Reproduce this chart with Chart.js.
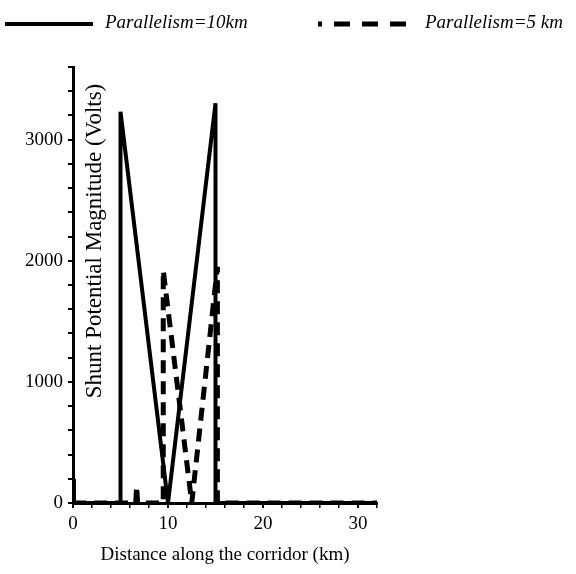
<!DOCTYPE html>
<html>
<head>
<meta charset="utf-8">
<title>Shunt potential along the corridor</title>
<script src="https://cdn.jsdelivr.net/npm/chart.js@4.4.1/dist/chart.umd.min.js"></script>
<style>
  html, body { margin: 0; padding: 0; background: #fff; }
  #wrap { position: relative; width: 576px; height: 574px; }
  #chart { position: absolute; left: 0; top: 0; }
  .leg-item { position: absolute; top: 0; height: 46px; }
  .leg-text {
    position: absolute; top: 11px; white-space: nowrap;
    font: italic 19px "Liberation Serif", "Times New Roman", serif; color: #000;
  }
</style>
</head>
<body>
<div id="wrap">
  <canvas id="chart" width="576" height="574"></canvas>
  <div id="legend"></div>
</div>
<script>
// Distances (km) and shunt potential (V)
const solidLabel = 'Parallelism=10km';
const solidX = [0, 0.1, 5, 5, 10, 15, 15, 32];
const solidY = [200, 0, 0, 3230, 0, 3300, 0, 0];

const dashedLabel = 'Parallelism=5 km';
const dashedX = [0, 6.6, 6.7, 6.8, 9.5, 9.5, 12.5, 15.2, 15.2, 32];
const dashedY = [0, 0, 140, 0, 0, 1920, 0, 1950, 0, 0];

const xTitle = 'Distance along the corridor (km)';
const yTitle = 'Shunt Potential Magnitude (Volts)';
const xMajor = [0, 10, 20, 30];
const yMajor = [0, 1000, 2000, 3000];

const serif = '"Liberation Serif", "Times New Roman", serif';

function toPoints(xs, ys) {
  return xs.map((x, i) => ({ x, y: ys[i] }));
}

// y title sits inside the plot, right of the axis
const yTitlePlugin = {
  id: 'yTitleInside',
  afterDraw(chart) {
    const ctx = chart.ctx;
    ctx.save();
    ctx.translate(95, 241);
    ctx.rotate(-Math.PI / 2);
    ctx.font = '23px ' + serif;
    ctx.fillStyle = '#000';
    ctx.textAlign = 'center';
    ctx.textBaseline = 'middle';
    ctx.fillText(yTitle, 0, 0);
    ctx.restore();
  }
};

const chart = new Chart(document.getElementById('chart'), {
  type: 'line',
  data: {
    datasets: [
      {
        label: solidLabel,
        data: toPoints(solidX, solidY),
        borderColor: '#000',
        borderWidth: 4,
        pointRadius: 0,
        tension: 0,
        fill: false
      },
      {
        label: dashedLabel,
        data: toPoints(dashedX, dashedY),
        borderColor: '#000',
        borderWidth: 5,
        borderDash: [13, 8],
        pointRadius: 0,
        tension: 0,
        fill: false
      }
    ]
  },
  options: {
    responsive: false,
    animation: false,
    devicePixelRatio: 1,
    layout: { padding: { top: 67, right: 199, left: 0, bottom: 0 } },
    plugins: {
      legend: { display: false },
      tooltip: { enabled: false }
    },
    scales: {
      x: {
        type: 'linear',
        min: 0,
        max: 32,
        afterFit: s => { s.height = 71; },
        border: { color: '#000', width: 3 },
        grid: {
          drawOnChartArea: false,
          tickLength: 5,
          color: '#000',
          lineWidth: ctx => (ctx.tick && xMajor.includes(ctx.tick.value)) ? 2 : 1.5
        },
        ticks: {
          stepSize: 2,
          autoSkip: false,
          maxRotation: 0,
          padding: 5,
          color: '#000',
          font: { family: serif, size: 19 },
          callback: v => xMajor.includes(v) ? String(v) : ''
        },
        title: {
          display: true,
          text: xTitle,
          color: '#000',
          font: { family: serif, size: 19 },
          padding: { top: 0, bottom: 8 }
        }
      },
      y: {
        min: 0,
        max: 3600,
        afterFit: s => { s.width = 73; },
        border: { color: '#000', width: 3 },
        grid: { drawOnChartArea: false, tickLength: 5, color: '#000', lineWidth: 2 },
        ticks: {
          stepSize: 200,
          autoSkip: false,
          padding: 5,
          color: '#000',
          font: { family: serif, size: 19 },
          callback: v => yMajor.includes(v) ? String(v) : ''
        }
      }
    }
  },
  plugins: [yTitlePlugin]
});

// HTML legend across the top, styled from the datasets
const legendSlots = [
  { lineFrom: 5, lineTo: 93, textLeft: 105, dash: '', dashOffset: 0 },
  { lineFrom: 318, lineTo: 406, textLeft: 425, dash: '16 12', dashOffset: 12 }
];
const legendEl = document.getElementById('legend');
chart.data.datasets.forEach((ds, i) => {
  const slot = legendSlots[i];
  const item = document.createElement('div');
  item.className = 'leg-item';
  item.style.left = '0px';
  item.innerHTML = `
    <svg width="576" height="46" style="position:absolute;left:0;top:0">
      <line x1="${slot.lineFrom}" y1="24" x2="${slot.lineTo}" y2="24"
        stroke="${ds.borderColor}" stroke-width="${ds.borderWidth}"
        ${slot.dash ? `stroke-dasharray="${slot.dash}" stroke-dashoffset="${slot.dashOffset}"` : ''} />
    </svg>
    <span class="leg-text" style="left:${slot.textLeft}px">${ds.label}</span>`;
  legendEl.appendChild(item);
});
</script>
</body>
</html>
